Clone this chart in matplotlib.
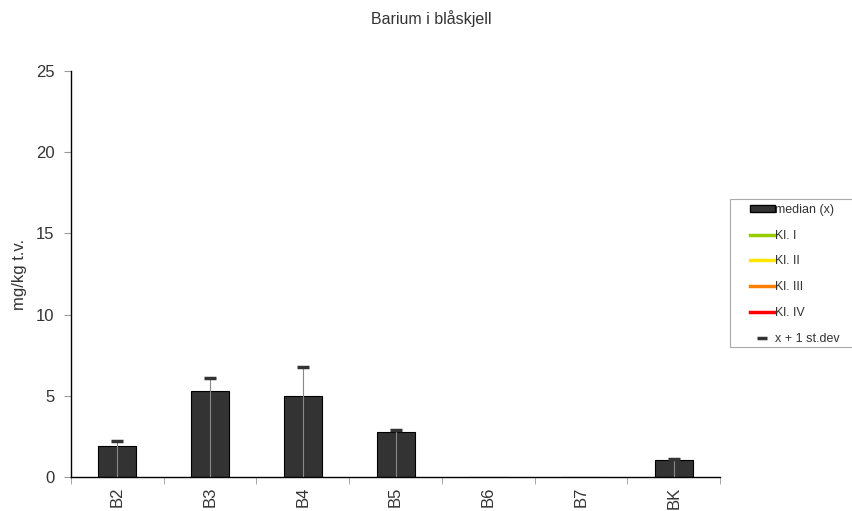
import matplotlib.pyplot as plt
from matplotlib.lines import Line2D
from matplotlib.patches import Patch, Rectangle

plt.rcParams["font.family"] = ["Liberation Sans", "DejaVu Sans"]

stations = ["B2", "B3", "B4", "B5", "B6", "B7", "BK"]
median = [1.9, 5.3, 5.0, 2.8, 0, 0, 1.03]
median_plus_sd = [2.2, 6.1, 6.8, 2.9, None, None, 1.1]

txt = "#333333"
W, H = 853, 511

fig = plt.figure(figsize=(8.53, 5.11), dpi=100)
ax = fig.add_axes([0.0832, 0.0665, 0.761, 0.7945])

x = list(range(len(stations)))
ax.bar(x, median, width=0.41, color="#333333", edgecolor="black", linewidth=0.8, zorder=2)

for xi, top in zip(x, median_plus_sd):
    if top is None:
        continue
    ax.vlines(xi, 0, top, color="#888888", linewidth=0.8, zorder=3)
    ax.plot(xi, top, marker="_", markersize=9, markeredgewidth=2.5, color="#333333", zorder=4)

ax.set_xlim(-0.5, len(stations) - 0.5)
ax.set_ylim(0, 25)
ax.set_yticks([0, 5, 10, 15, 20, 25])
ax.set_xticks(x)
ax.set_xticklabels(stations, rotation=90)
ax.set_xticks([i - 0.5 for i in range(len(stations) + 1)], minor=True)
ax.tick_params(axis="x", which="major", length=0, labelsize=12, colors=txt, pad=7)
ax.tick_params(axis="x", which="minor", length=5, color="#999999")
ax.tick_params(axis="y", length=5, color="#999999", labelsize=12, labelcolor=txt, pad=7)
for side in ["top", "right"]:
    ax.spines[side].set_visible(False)
ax.spines["left"].set_linewidth(1)
ax.spines["bottom"].set_linewidth(1)
ax.set_ylabel("mg/kg t.v.", fontsize=12, color=txt)
ax.yaxis.set_label_coords(-0.068, 0.5)

fig.text(0.505, 0.963, "Barium i blåskjell", ha="center", va="center", fontsize=11.5, color=txt)

# legend box runs off the right edge in the original
fig.patches.append(Rectangle((730 / W, 1 - 347 / H), 140 / W, 148 / H,
                             transform=fig.transFigure, facecolor="white",
                             edgecolor="#aaaaaa", linewidth=0.8, zorder=0))

handles = [
    Patch(facecolor="#333333", edgecolor="black", label="median (x)"),
    Line2D([], [], color="#99CC00", lw=2.5, label="Kl. I"),
    Line2D([], [], color="#FFE600", lw=2.5, label="Kl. II"),
    Line2D([], [], color="#FF8000", lw=2.5, label="Kl. III"),
    Line2D([], [], color="#FF0000", lw=2.5, label="Kl. IV"),
    Line2D([], [], color="#333333", marker="_", markersize=7, markeredgewidth=2.5, lw=0,
           label="x + 1 st.dev"),
]
leg = fig.legend(handles=handles, loc="upper left", bbox_to_anchor=(750 / W, 1 - 204 / H),
                 fontsize=9, frameon=False, handlelength=2.0, handleheight=0.5,
                 handletextpad=0.0, labelspacing=1.1, borderpad=0, borderaxespad=0)
for t in leg.get_texts():
    t.set_color(txt)

fig.savefig("out.png", dpi=100)
